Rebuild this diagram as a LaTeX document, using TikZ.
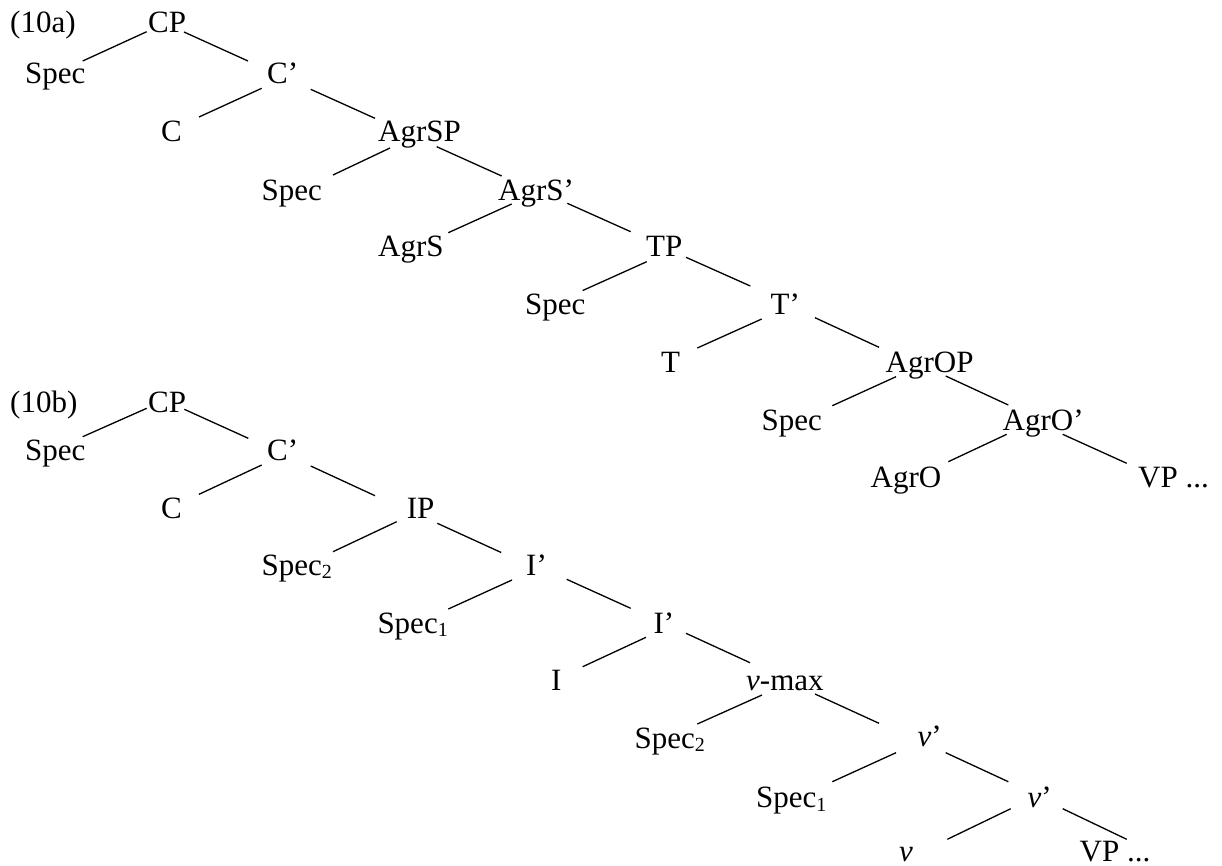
\documentclass[tikz,border=0pt]{standalone}
\usepackage{fontspec}
\setmainfont{Liberation Serif}
\usetikzlibrary{calc}
\newcommand\sbx[1]{\raisebox{-3.5pt}{\fontsize{20}{20}\selectfont #1}}
\newcommand\tedge[4]{\draw[edge] ($(#1.base west)+(#2)$) -- ($(#3.base west)+(#4)$);}
\begin{document}
\begin{tikzpicture}[x=1pt,y=-1pt,
  txt/.style={anchor=base west, inner sep=0pt, font=\fontsize{31}{36}\selectfont},
  edge/.style={line width=1.3pt, line cap=butt}]
\useasboundingbox (0,0) rectangle (1222,865);
% ---------- (10a)
\node[txt] (aLab) at (10,32.5) {(10a)};
\node[txt] (aCP) at (148,32.5) {CP};
\node[txt] (aSpecA) at (25,83) {Spec};
\node[txt] (aCb) at (267,83) {C’};
\node[txt] (aC) at (161,141.7) {C};
\node[txt] (aAgrSP) at (378,141.7) {AgrSP};
\node[txt] (aSpecB) at (261.5,200) {Spec};
\node[txt] (aAgrSb) at (498,200) {AgrS’};
\node[txt] (aAgrS) at (378,256.7) {AgrS};
\node[txt] (aTP) at (646,256.7) {TP};
\node[txt] (aSpecC) at (525,314) {Spec};
\node[txt] (aTb) at (770.5,314) {T’};
\node[txt] (aT) at (661,372) {T};
\node[txt] (aAgrOP) at (885.5,372) {AgrOP};
\node[txt] (aSpecD) at (761.5,430) {Spec};
\node[txt] (aAgrOb) at (1002.5,430) {AgrO’};
\node[txt] (aAgrO) at (870.5,487.3) {AgrO};
\node[txt] (aVP) at (1138,487.3) {VP ...};
\tedge{aCP}{-1.3,-0.8}{aSpecA}{57.7,-22}
\tedge{aCP}{36,-0.5}{aCb}{-19,-22}
\tedge{aCb}{-5.3,5.3}{aC}{38,-24.7}
\tedge{aCb}{43.7,6.3}{aAgrSP}{-3,-23.4}
\tedge{aAgrSP}{12,6.3}{aSpecB}{71.5,-25}
\tedge{aAgrSP}{58.7,5}{aAgrSb}{3.7,-24}
\tedge{aAgrSb}{13.7,4}{aAgrS}{70.3,-24}
\tedge{aAgrSb}{69.3,3.3}{aTP}{-15.3,-25}
\tedge{aTP}{0.7,5}{aSpecC}{57.7,-23.5}
\tedge{aTP}{40,0.6}{aTb}{-20.2,-28}
\tedge{aTb}{-8.8,5}{aT}{36.3,-24}
\tedge{aTb}{44.5,3.7}{aAgrOP}{-6.5,-24.7}
\tedge{aAgrOP}{10.5,4.7}{aSpecD}{70.8,-24.3}
\tedge{aAgrOP}{60.2,4}{aAgrOb}{5.8,-25}
\tedge{aAgrOb}{4.2,4.3}{aAgrO}{77.8,-25.6}
\tedge{aAgrOb}{60.2,4.3}{aVP}{-11.3,-24}
% ---------- (10b)
\node[txt] (bLab) at (10,412) {(10b)};
\node[txt] (bCP) at (148,412) {CP};
\node[txt] (bSpecA) at (25,460) {Spec};
\node[txt] (bCb) at (267,460) {C’};
\node[txt] (bC) at (161,518.3) {C};
\node[txt] (bIP) at (406.7,518.3) {IP};
\node[txt] (bSpecB) at (261.5,575) {Spec\sbx{2}};
\node[txt] (bIb) at (526,575) {I’};
\node[txt] (bSpecC) at (377.3,633.3) {Spec\sbx{1}};
\node[txt] (bIbb) at (653.4,633.3) {I’};
\node[txt] (bI) at (551,690.7) {I};
\node[txt] (bvmax) at (746,690.7) {\textit{v}-max};
\node[txt] (bSpecD) at (634.5,748) {Spec\sbx{2}};
\node[txt] (bvb) at (917.5,746.5) {\textit{v}’};
\node[txt] (bSpecE) at (756,807.5) {Spec\sbx{1}};
\node[txt] (bvbb) at (1027.5,807.5) {\textit{v}’};
\node[txt] (bv) at (899,861) {\textit{v}};
\node[txt] (bVP) at (1079.5,861) {VP ...};
\tedge{bCP}{-1.3,-3.7}{bSpecA}{57.7,-23.3}
\tedge{bCP}{36.3,-2.7}{bCb}{-18.7,-21.7}
\tedge{bCb}{-5.3,5}{bC}{38,-24}
\tedge{bCb}{43.7,6}{bIP}{-31.7,-22.6}
\tedge{bIP}{-10,3.4}{bSpecB}{71.5,-23.3}
\tedge{bIP}{30.6,5}{bIb}{-24.8,-22.5}
\tedge{bIb}{-14,5}{bSpecC}{71,-24.3}
\tedge{bIb}{40.7,4.3}{bIbb}{-22.7,-25}
\tedge{bIbb}{-7.4,4}{bI}{31.7,-24}
\tedge{bIbb}{32.6,0}{bvmax}{4,-28}
\tedge{bvmax}{16,4.3}{bSpecD}{62.8,-24}
\tedge{bvmax}{69,3.3}{bvb}{-38.5,-23.2}
\tedge{bvb}{-21.5,6.2}{bSpecE}{76.3,-25.8}
\tedge{bvb}{28.2,6.2}{bvbb}{-19.2,-25.8}
\tedge{bvbb}{-16.8,1.2}{bv}{48.3,-21.7}
\tedge{bvbb}{35.2,1.2}{bVP}{47.2,-21.7}
\end{tikzpicture}
\end{document}
